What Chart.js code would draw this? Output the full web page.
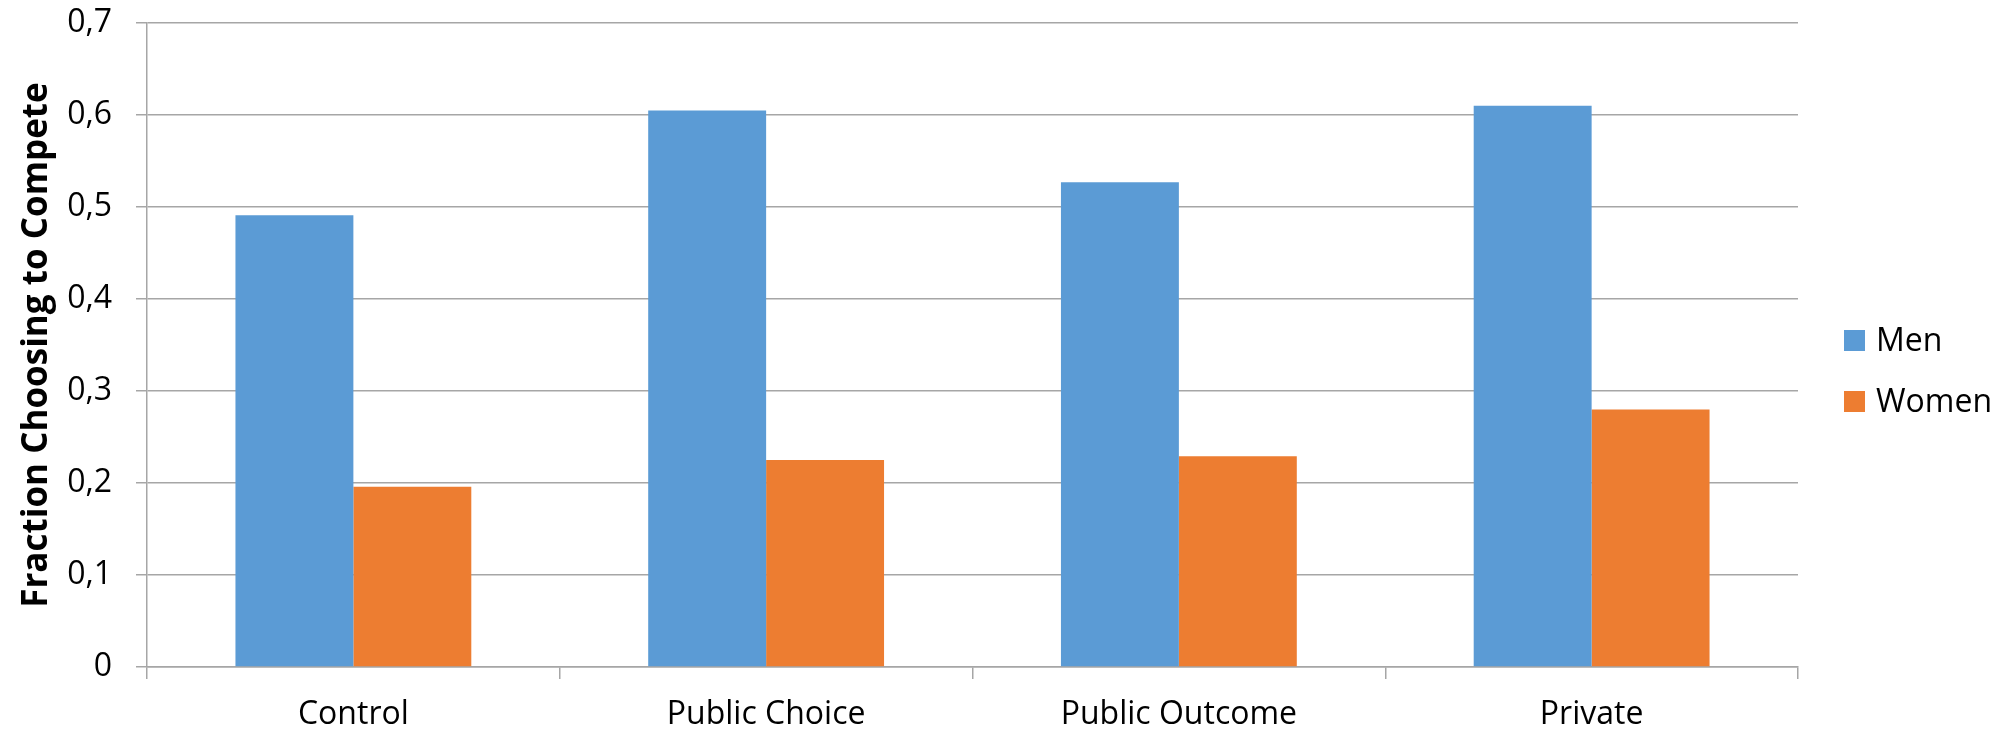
<!DOCTYPE html>
<html>
<head>
<meta charset="utf-8">
<title>Fraction Choosing to Compete</title>
<script src="https://cdn.jsdelivr.net/npm/chart.js@4.4.1/dist/chart.umd.min.js"></script>
<style>
  html, body { margin: 0; padding: 0; background: #ffffff; }
  #wrap { width: 2011px; height: 734px; position: relative; }
</style>
</head>
<body>
<div id="wrap"><canvas id="chart" width="2011" height="734"></canvas></div>
<script>
// Treatments and share of participants choosing the tournament
const categories = ['Control', 'Public Choice', 'Public Outcome', 'Private'];
const seriesNames = ['Men', 'Women'];
const menValues = [0.491, 0.605, 0.527, 0.610];
const womenValues = [0.196, 0.225, 0.229, 0.280];
const yTickValues = [0, 0.1, 0.2, 0.3, 0.4, 0.5, 0.6, 0.7];
const yTickLabels = ['0', '0,1', '0,2', '0,3', '0,4', '0,5', '0,6', '0,7'];
const seriesColors = ['#5B9BD5', '#ED7D31'];

const FONT = '"Open Sans", "Liberation Sans", sans-serif';
const GRID = '#a6a6a6';

// Legend drawn to the right of the plot, squares plus labels
const sideLegend = {
  id: 'sideLegend',
  afterDraw(chart) {
    const ctx = chart.ctx;
    const area = chart.chartArea;
    const box = 21, gap = 61;
    const x = area.right + 46;
    const yMid = chart.height / 2 + 4;
    const y0 = yMid - gap / 2;
    ctx.save();
    ctx.font = '32px ' + FONT;
    ctx.textBaseline = 'middle';
    ctx.textAlign = 'left';
    chart.data.datasets.forEach((ds, i) => {
      const cy = y0 + i * gap;
      ctx.fillStyle = ds.backgroundColor;
      ctx.fillRect(x, cy - box / 2, box, box);
      ctx.fillStyle = '#000000';
      ctx.fillText(ds.label, x + box + 11, cy + 1);
    });
    ctx.restore();
  }
};

new Chart(document.getElementById('chart'), {
  type: 'bar',
  data: {
    labels: categories,
    datasets: [
      { label: seriesNames[0], data: menValues, backgroundColor: seriesColors[0] },
      { label: seriesNames[1], data: womenValues, backgroundColor: seriesColors[1] }
    ]
  },
  options: {
    responsive: false,
    animation: false,
    devicePixelRatio: 1,
    layout: { padding: { left: 0, right: 213, top: 23, bottom: 0 } },
    datasets: {
      bar: { categoryPercentage: 0.5714, barPercentage: 1.0, borderWidth: 0 }
    },
    plugins: {
      legend: { display: false },
      tooltip: { enabled: false }
    },
    scales: {
      x: {
        offset: true,
        grid: {
          offset: true,
          drawOnChartArea: false,
          drawTicks: true,
          tickLength: 12,
          color: GRID,
          lineWidth: 1.5
        },
        border: { display: true, color: GRID, width: 1.5 },
        ticks: {
          color: '#000000',
          padding: 17,
          maxRotation: 0,
          font: { family: FONT, size: 32 }
        },
        afterFit(scale) { scale.height = 67; }
      },
      y: {
        min: 0,
        max: 0.7,
        afterBuildTicks(scale) {
          scale.ticks = yTickValues.map(v => ({ value: v }));
        },
        grid: {
          color: GRID,
          lineWidth: 1.5,
          drawTicks: true,
          tickLength: 11
        },
        border: { display: true, color: GRID, width: 1.5 },
        ticks: {
          color: '#000000',
          padding: 24,
          font: { family: FONT, size: 32 },
          callback(value, index) { return yTickLabels[index]; }
        },
        title: {
          display: true,
          text: 'Fraction Choosing to Compete',
          color: '#000000',
          padding: { top: 16, bottom: 0 },
          font: { family: FONT, size: 35, weight: 'bold' }
        },
        afterFit(scale) {
          scale.width = 147;
          scale.paddingTop = 0;
          scale.paddingBottom = 0;
        }
      }
    }
  },
  plugins: [sideLegend]
});
</script>
</body>
</html>
